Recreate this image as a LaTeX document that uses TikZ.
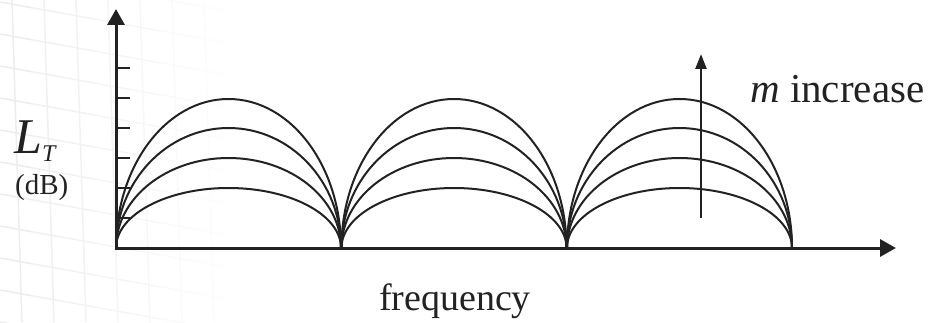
\documentclass[tikz,border=0pt]{standalone}
\usepackage{fontspec}
\setmainfont{Liberation Serif}
\usetikzlibrary{arrows.meta}
\definecolor{ink}{HTML}{222222}
\begin{document}
\begin{tikzpicture}[x=1pt,y=1pt,
  axis/.style={line width=3pt, draw=ink, {Triangle[width=17pt,length=16pt]}-{Triangle[width=17pt,length=16pt]}},
  arch/.style={line width=2pt, draw=ink},
  tickmark/.style={line width=2pt, draw=ink},
  gridline/.style={line width=1.5pt},
  lbl/.style={inner sep=0pt, text=ink}]
\useasboundingbox (0,0) rectangle (932,322);
% faint background grid
\begin{scope}
\clip (0,0) rectangle (260,322);
\foreach \i in {0,...,7} {
  \pgfmathtruncatemacro\shade{7-\i}
  \foreach \j in {-2,...,13} {
    \draw[gridline, draw=black!\shade] ({\i*32}, {\j*32 - 0.18*\i*32}) -- ({(\i+1)*32}, {\j*32 - 0.18*(\i+1)*32});
  }
  \draw[gridline, draw=black!\shade] ({\i*32+22},0) -- ({\i*32+12},322);
}
\end{scope}
% axes
\coordinate (O) at (116,74);
\coordinate (ytip) at (116,313);
\coordinate (xtip) at (896,74);
\draw[axis] (ytip) -- (O) -- (xtip);
% ticks
\foreach \y in {104,134,164,194,224,254}
  \draw[tickmark] (116,\y) -- (130,\y);
% arches
\foreach \cx in {228.5,454,679.5}
  \foreach \h in {60,90,120,149}
    \draw[arch] ({\cx-112.5},74) arc[start angle=180,end angle=0,x radius=112.5pt,y radius={\h pt}];
% m increase arrow
\coordinate (mfrom) at (701,104);
\coordinate (mto) at (701,268);
\draw[line width=2.5pt, draw=ink, -{Triangle[width=11pt,length=15pt]}] (mfrom) -- (mto);
% labels
\node[lbl, anchor=base west] (minc) at (750,219) {\fontsize{41}{44}\selectfont\textit{m} increase};
\node[lbl, anchor=base west] (LT) at (14,169) {\fontsize{50}{52}\selectfont\textit{L}\raisebox{-9pt}{\fontsize{24}{26}\selectfont\textit{T}}};
\node[lbl, anchor=base west] (dB) at (15,128) {\fontsize{29}{32}\selectfont (dB)};
\node[lbl, anchor=base] (freq) at (455,12) {\fontsize{38}{40}\selectfont frequency};
\end{tikzpicture}
\end{document}
